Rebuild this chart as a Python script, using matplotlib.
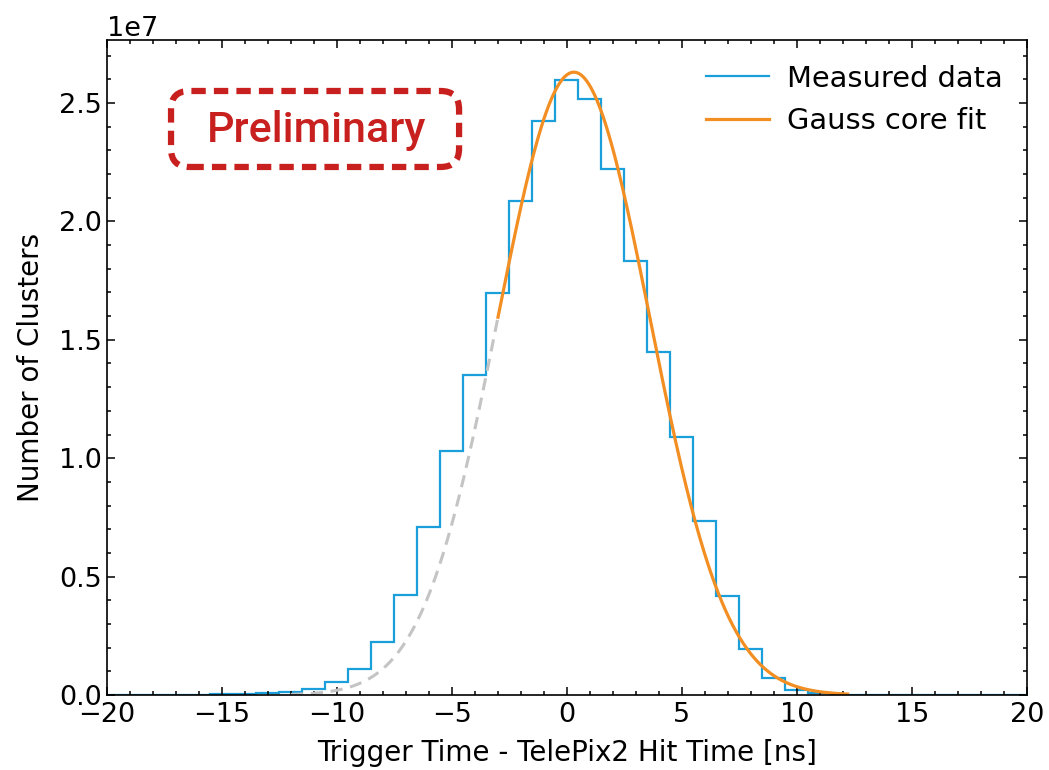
import numpy as np
import matplotlib.pyplot as plt
from matplotlib.patches import FancyBboxPatch
from matplotlib.ticker import MultipleLocator

plt.rcParams['font.family'] = ['DejaVu Sans']
plt.rcParams['font.size'] = 19.5

# histogram: 1 ns bins centred on integers, counts in units of 1e6
bin_centers = np.arange(-20, 21)
counts_1e6 = [0.0, 0.005, 0.01, 0.015, 0.02, 0.03, 0.05, 0.07, 0.11, 0.27,
              0.54, 1.1, 2.22, 4.24, 7.08, 10.3, 13.5, 16.99, 20.85, 24.25,
              25.97, 25.17, 22.23, 18.31, 14.48, 10.9, 7.36, 4.2, 1.95, 0.72,
              0.22, 0.07, 0.02, 0.01, 0.005, 0.005, 0.0, 0.0, 0.0, 0.0, 0.0]

# gauss core fit parameters
fit_amp = 26.3e6
fit_mu = 0.3
fit_sigma = 3.3
fit_range = (-3.0, 12.2)
extrap_range = (-12.0, -3.0)

counts = np.array(counts_1e6) * 1e6
edges = np.append(bin_centers - 0.5, bin_centers[-1] + 0.5)


def gauss(x):
    return fit_amp * np.exp(-(x - fit_mu) ** 2 / (2 * fit_sigma ** 2))


fig = plt.figure(figsize=(10.49, 7.7), dpi=100)
ax = fig.add_axes([0.102, 0.0974, 0.877, 0.8507])

ax.stairs(counts, edges, color='#1a9fdb', lw=1.6, label='Measured data')

xe = np.linspace(*extrap_range, 200)
ax.plot(xe, gauss(xe), color='#c4c4c4', lw=2.2, ls=(0, (4, 2.5)))
xf = np.linspace(*fit_range, 400)
ax.plot(xf, gauss(xf), color='#f28e22', lw=2.3, label='Gauss core fit')

ax.set_xlim(-20, 20)
ax.set_ylim(0, 2.766e7)
ax.xaxis.set_major_locator(MultipleLocator(5))
ax.xaxis.set_minor_locator(MultipleLocator(1))
ax.yaxis.set_major_locator(MultipleLocator(0.5e7))
ax.yaxis.set_minor_locator(MultipleLocator(0.1e7))
ax.tick_params(which='both', direction='in', top=True, right=True, width=1.1)
ax.tick_params(which='major', length=5.5)
ax.tick_params(which='minor', length=3.2)
ax.tick_params(axis='x', pad=5)
for s in ax.spines.values():
    s.set_linewidth(1.2)

ax.set_xlabel('Trigger Time - TelePix2 Hit Time [ns]', fontsize=20, labelpad=8)
ax.set_ylabel('Number of Clusters', fontsize=20, labelpad=10)

ax.legend(loc='upper right', frameon=False, fontsize=20.8, handlelength=2.2,
          handletextpad=0.6, labelspacing=0.5, borderaxespad=0.45)

# preliminary stamp
red = '#c8201e'
box = FancyBboxPatch((0.0696, 0.8061), 0.3131, 0.116, transform=ax.transAxes,
                     boxstyle='round,pad=0,rounding_size=0.02', mutation_aspect=1.4,
                     fill=False, ec=red, lw=4.5, ls=(0, (2.3, 1.3)), zorder=5)
ax.add_patch(box)
ax.text(0.228, 0.862, 'Preliminary', transform=ax.transAxes, ha='center', va='center',
        color=red, fontsize=31, family=['Roboto', 'DejaVu Sans'],
        fontweight='medium', zorder=6)

fig.savefig('out.png', dpi=100)
